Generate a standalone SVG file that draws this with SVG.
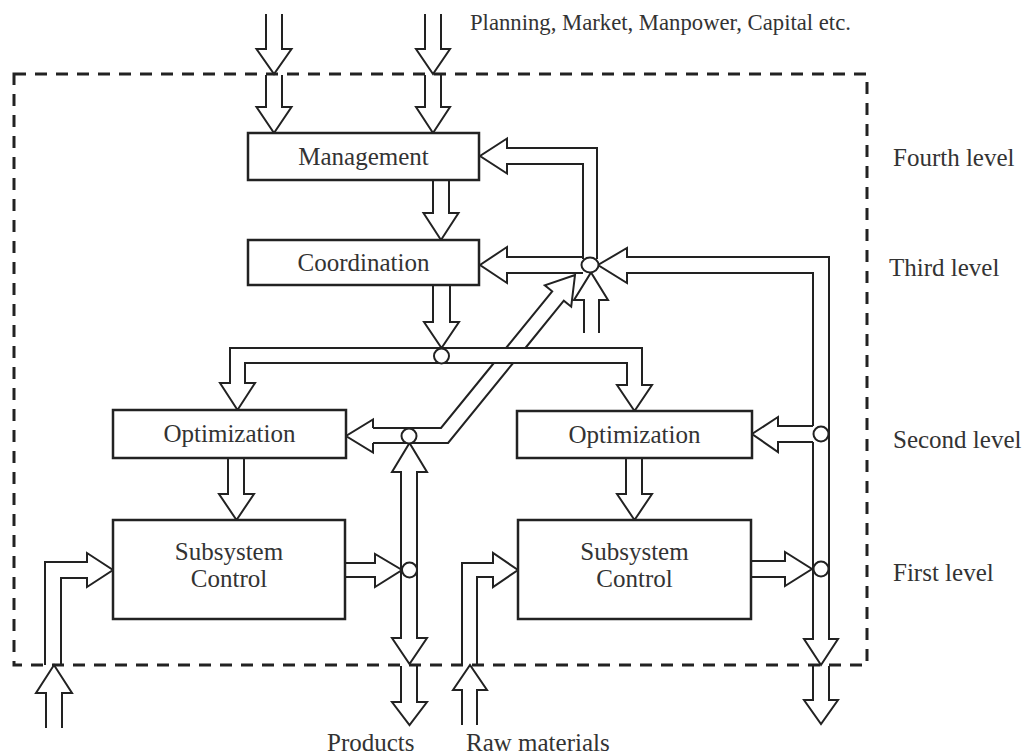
<svg xmlns="http://www.w3.org/2000/svg" width="1027" height="756" viewBox="0 0 1027 756">
<style>
.ln{fill:none;stroke:#222;stroke-width:2;stroke-linejoin:miter}
.box{fill:#fff;stroke:#222;stroke-width:2.5}
.jn{fill:#fff;stroke:#222;stroke-width:2}
.border{fill:none;stroke:#222;stroke-width:3;stroke-dasharray:12 9}
.t{font-family:"Liberation Serif","Times New Roman",serif;font-size:25px;fill:#333}
.c{text-anchor:middle}
</style>
<rect width="1027" height="756" fill="#fff"/>
<rect class="border" x="14" y="74" width="853" height="591"/>
<g id="connectors">
<path class="ln" d="M266,14 V49 H256.5 L274,74 L291.5,49 H282 V14"/>
<path class="ln" d="M266,75 V107 H256.5 L274,133 L291.5,107 H282 V75"/>
<path class="ln" d="M425,14 V49 H416 L433,74 L450,49 H441 V14"/>
<path class="ln" d="M425,75 V107 H416 L433,133 L450,107 H441 V75"/>
<path class="ln" d="M433,180 V213 H423.5 L441,240 L458.5,213 H449 V180"/>
<path class="ln" d="M433,285 V322 H424 L441.5,348 L459,322 H450 V285"/>
<path class="ln" d="M441,348 H230 V383 H220 L237.5,410 L255,383 H245 V363 H627 V385 H617 L634.5,411 L652,385 H642 V348 Z"/>
<path class="ln" d="M597,259 V148 H507 V138.5 L480,156 L507,173.5 V164 H583 V259"/>
<path class="ln" d="M583,257 H507 V247 L480,265 L507,283 V273 H583"/>
<path class="ln" d="M813,426 V273 H627 V283 L598,265 L627,248 V257 H829 V639 H838 L821,665 L804,639 H813 V442"/>
<path class="ln" d="M813,666 V700 H804 L821,724 L838,700 H829 V666"/>
<path class="ln" d="M813,426 H778 V417 L752,434 L778,452 V442 H813"/>
<path class="ln" d="M751,561 H785 V552 L812,569 L785,586 V577 H751"/>
<path class="ln" d="M626,458 V494 H617 L634.5,520 L652,494 H642 V458"/>
<path class="ln" d="M228,458 V494 H219 L236.5,520 L254,494 H244 V458"/>
<path class="ln" d="M345,563 H375 V554 L402,570 L375,587 V577 H345"/>
<path class="ln" d="M401,472 H392 L409.5,443 L427,472 H417 V638 H427 L409.5,664 L392,638 H401 Z"/>
<path class="ln" d="M401,666 V702 H392 L409.5,725 L427,702 H417 V666"/>
<path class="ln" d="M373,428 V419.5 L346,436 L373,452.5 V443"/>
<path class="ln" d="M373,428 H441 L493.9,363"/>
<path class="ln" d="M506.1,348 L552.2,291.3 L544.8,285.3 L575,275 L571.2,306.7 L563.8,300.7 L525.4,348"/>
<path class="ln" d="M513.1,363 L448.1,443 H373"/>
<path class="ln" d="M584,333 V300 H574 L591,272.5 L608,300 H599 V333"/>
<path class="ln" d="M45,665 V562 H87 V553 L113,570 L87,587 V578 H61 V665"/>
<path class="ln" d="M46,728 V693 H36 L54,665 L72,693 H62 V728"/>
<path class="ln" d="M462,665 V563 H493 V553 L518,570 L493,587 V577 H477 V665"/>
<path class="ln" d="M462,725 V690 H453 L470,665 L487,690 H477 V725"/>
<circle class="jn" cx="441.5" cy="356" r="7.5"/>
<circle class="jn" cx="409" cy="436" r="7.5"/>
<circle class="jn" cx="409.5" cy="570" r="7.5"/>
<ellipse class="jn" cx="590" cy="265" rx="8.5" ry="7.5"/>
<circle class="jn" cx="821" cy="434" r="7.5"/>
<circle class="jn" cx="821" cy="569" r="7.5"/>
</g>
<g id="management"><rect class="box" x="248" y="133" width="231" height="47"/><text class="t c" x="363.5" y="165">Management</text></g>
<g id="coordination"><rect class="box" x="248" y="240" width="231" height="45"/><text class="t c" x="363.5" y="271">Coordination</text></g>
<g id="optimization-left"><rect class="box" x="113" y="410" width="233" height="48"/><text class="t c" x="229.5" y="442">Optimization</text></g>
<g id="optimization-right"><rect class="box" x="517" y="411" width="235" height="47"/><text class="t c" x="634.5" y="443">Optimization</text></g>
<g id="subsystem-left"><rect class="box" x="113" y="520" width="232" height="99"/><text class="t c" x="229" y="560">Subsystem</text><text class="t c" x="229" y="587">Control</text></g>
<g id="subsystem-right"><rect class="box" x="518" y="520" width="233" height="99"/><text class="t c" x="634.5" y="560">Subsystem</text><text class="t c" x="634.5" y="587">Control</text></g>
<g id="labels">
<text class="t" x="470" y="30" style="font-size:22.7px">Planning, Market, Manpower, Capital etc.</text>
<text class="t" x="893" y="166">Fourth level</text>
<text class="t" x="889" y="276">Third level</text>
<text class="t" x="893" y="448">Second level</text>
<text class="t" x="893" y="581">First level</text>
<text class="t" x="327" y="751">Products</text>
<text class="t" x="466" y="751">Raw materials</text>
</g>
</svg>
